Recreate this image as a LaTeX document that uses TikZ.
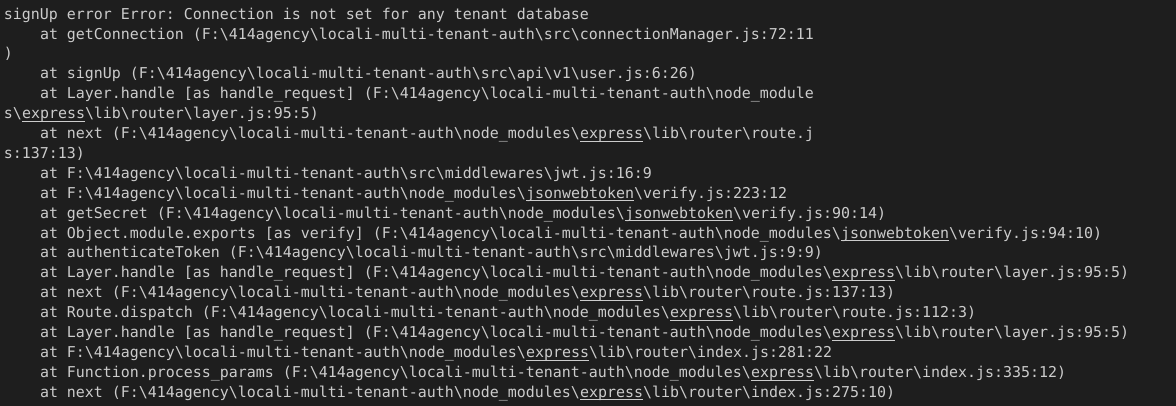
\documentclass[tikz,border=0pt]{standalone}
\usepackage{fontspec}
\setmonofont{DejaVu Sans Mono}
\definecolor{termbg}{HTML}{1E1E1E}
\definecolor{termfg}{HTML}{CCCCCC}
\newcommand\B{\textbackslash}
\newcommand\U{\_}
\newcommand\pth{F:\B 414agency\B locali-multi-tenant-auth\B}
\newcommand\ulk[1]{\setbox0\hbox{#1}\rlap{\rule[-3pt]{\wd0}{0.9pt}}\box0}
\tikzset{
  termline/.style={anchor=base west, inner sep=0pt, outer sep=0pt, text=termfg,
    font=\ttfamily\fontsize{14.95pt}{19.9pt}\selectfont}
}
\begin{document}
\begin{tikzpicture}[x=1pt,y=-1pt]
\fill[termbg] (0,0) rectangle (1176,406);
\useasboundingbox (0,0) rectangle (1176,406);
\def\xa{4}
\def\xb{40}
\node[termline] (l1) at (\xa,19.2+0*19.9) {signUp error Error: Connection is not set for any tenant database};
\node[termline] (l2) at (\xb,19.2+1*19.9) {at getConnection (\pth src\B connectionManager.js:72:11};
\node[termline] (l3) at (\xa,19.2+2*19.9) {)};
\node[termline] (l4) at (\xb,19.2+3*19.9) {at signUp (\pth src\B api\B v1\B user.js:6:26)};
\node[termline] (l5) at (\xb,19.2+4*19.9) {at Layer.handle [as handle\U request] (\pth node\U module};
\node[termline] (l6) at (\xa,19.2+5*19.9) {s\B\ulk{express}\B lib\B router\B layer.js:95:5)};
\node[termline] (l7) at (\xb,19.2+6*19.9) {at next (\pth node\U modules\B\ulk{express}\B lib\B router\B route.j};
\node[termline] (l8) at (\xa,19.2+7*19.9) {s:137:13)};
\node[termline] (l9) at (\xb,19.2+8*19.9) {at \pth src\B middlewares\B jwt.js:16:9};
\node[termline] (l10) at (\xb,19.2+9*19.9) {at \pth node\U modules\B\ulk{jsonwebtoken}\B verify.js:223:12};
\node[termline] (l11) at (\xb,19.2+10*19.9) {at getSecret (\pth node\U modules\B\ulk{jsonwebtoken}\B verify.js:90:14)};
\node[termline] (l12) at (\xb,19.2+11*19.9) {at Object.module.exports [as verify] (\pth node\U modules\B\ulk{jsonwebtoken}\B verify.js:94:10)};
\node[termline] (l13) at (\xb,19.2+12*19.9) {at authenticateToken (\pth src\B middlewares\B jwt.js:9:9)};
\node[termline] (l14) at (\xb,19.2+13*19.9) {at Layer.handle [as handle\U request] (\pth node\U modules\B\ulk{express}\B lib\B router\B layer.js:95:5)};
\node[termline] (l15) at (\xb,19.2+14*19.9) {at next (\pth node\U modules\B\ulk{express}\B lib\B router\B route.js:137:13)};
\node[termline] (l16) at (\xb,19.2+15*19.9) {at Route.dispatch (\pth node\U modules\B\ulk{express}\B lib\B router\B route.js:112:3)};
\node[termline] (l17) at (\xb,19.2+16*19.9) {at Layer.handle [as handle\U request] (\pth node\U modules\B\ulk{express}\B lib\B router\B layer.js:95:5)};
\node[termline] (l18) at (\xb,19.2+17*19.9) {at \pth node\U modules\B\ulk{express}\B lib\B router\B index.js:281:22};
\node[termline] (l19) at (\xb,19.2+18*19.9) {at Function.process\U params (\pth node\U modules\B\ulk{express}\B lib\B router\B index.js:335:12)};
\node[termline] (l20) at (\xb,19.2+19*19.9) {at next (\pth node\U modules\B\ulk{express}\B lib\B router\B index.js:275:10)};
\end{tikzpicture}
\end{document}
